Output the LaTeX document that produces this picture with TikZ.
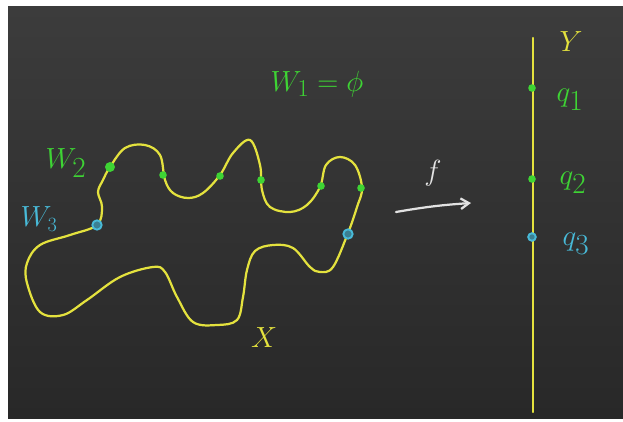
\documentclass[tikz,border=0pt]{standalone}
\usepackage{xcolor}
\usetikzlibrary{calc,arrows.meta}

\definecolor{boardtop}{RGB}{60,60,60}
\definecolor{boardbot}{RGB}{40,40,40}
\definecolor{chalkyellow}{RGB}{228,226,62}
\definecolor{chalkgreen}{RGB}{62,212,52}
\definecolor{chalkcyan}{RGB}{72,186,216}
\definecolor{chalkwhite}{RGB}{226,226,226}

\begin{document}
\begin{tikzpicture}[x=0.03cm, y=-0.03cm,
    chalk/.style={line width=1.9pt, line cap=round, line join=round},
    gdot/.style={circle, fill=chalkgreen, inner sep=0pt, minimum size=6.5pt},
    cdot/.style={circle, draw=chalkcyan, fill=chalkcyan!60!boardbot,
      line width=1.6pt, inner sep=0pt, minimum size=8pt},
    lab/.style={inner sep=0pt}, >={Straight Barb[length=7pt,width=9pt]}]

  \useasboundingbox (0,0) rectangle (623,421);
  \fill[white] (0,0) rectangle (623,421);
  \shade[top color=boardtop, bottom color=boardbot] (8,6) rectangle (623,418);

  % the space X
  \draw[chalk, chalkyellow] plot[smooth cycle, tension=0.6] coordinates {
    (97,225) (70,235) (40,245) (27,263) (27,283) (40,312) (63,315) (87,300)
    (120,277) (153,267) (165,272) (177,297) (193,322) (217,325) (237,320)
    (243,297) (247,270) (255,251) (273,245) (293,248) (310,267) (320,272)
    (333,267) (348,233) (357,207) (362,188) (355,165) (340,157) (326,165)
    (320,187) (307,205) (290,212) (270,207) (262,190) (260,165) (250,140)
    (233,153) (220,175) (203,193) (188,198) (173,193) (165,180) (160,155)
    (145,145) (125,148) (110,167) (103,180) (98,192) (102,207)};

  \node[gdot, minimum size=8.5pt] (w2) at (110,167) {};
  \node[gdot] (a1) at (163,175) {};
  \node[gdot] (a2) at (220,176) {};
  \node[gdot] (a3) at (261,180) {};
  \node[gdot] (a4) at (321,186) {};
  \node[gdot] (a5) at (361,188) {};
  \node[cdot] (w3) at (97,225) {};
  \node[cdot] (b1) at (348,234) {};

  \node[lab, chalkgreen, font=\fontsize{34}{34}\selectfont] (lw2) at (66,163) {$W_2$};
  \node[lab, chalkcyan, font=\fontsize{25}{25}\selectfont] (lw3) at (39,219) {$W_3$};
  \node[lab, chalkgreen, font=\fontsize{28}{28}\selectfont] (lw1) at (317,84) {$W_1=\phi$};
  \node[lab, chalkyellow, font=\fontsize{52}{52}\selectfont] (lx) at (264,338) {$X$};

  % the map f
  \coordinate (fa) at (396,212);
  \coordinate (fb) at (471,203);
  \draw[chalk, chalkwhite, ->] (fa) to[bend left=3] (fb);
  \node[lab, chalkwhite, font=\fontsize{38}{38}\selectfont] (lf) at (433,173) {$f$};

  % the space Y
  \coordinate (ytop) at (533,38);
  \coordinate (ybot) at (533,412);
  \draw[chalk, chalkyellow] (ytop) -- (ybot);
  \node[lab, chalkyellow, font=\fontsize{52}{52}\selectfont] (ly) at (571,42) {$Y$};

  \node[gdot] (q1) at (532,88) {};
  \node[gdot] (q2) at (532,179) {};
  \node[cdot, minimum size=6.5pt] (q3) at (532,237) {};
  \node[lab, chalkgreen, font=\fontsize{42}{42}\selectfont] (lq1) at (570,100) {$q_1$};
  \node[lab, chalkgreen, font=\fontsize{42}{42}\selectfont] (lq2) at (573,183) {$q_2$};
  \node[lab, chalkcyan, font=\fontsize{42}{42}\selectfont] (lq3) at (576,244) {$q_3$};
\end{tikzpicture}
\end{document}
